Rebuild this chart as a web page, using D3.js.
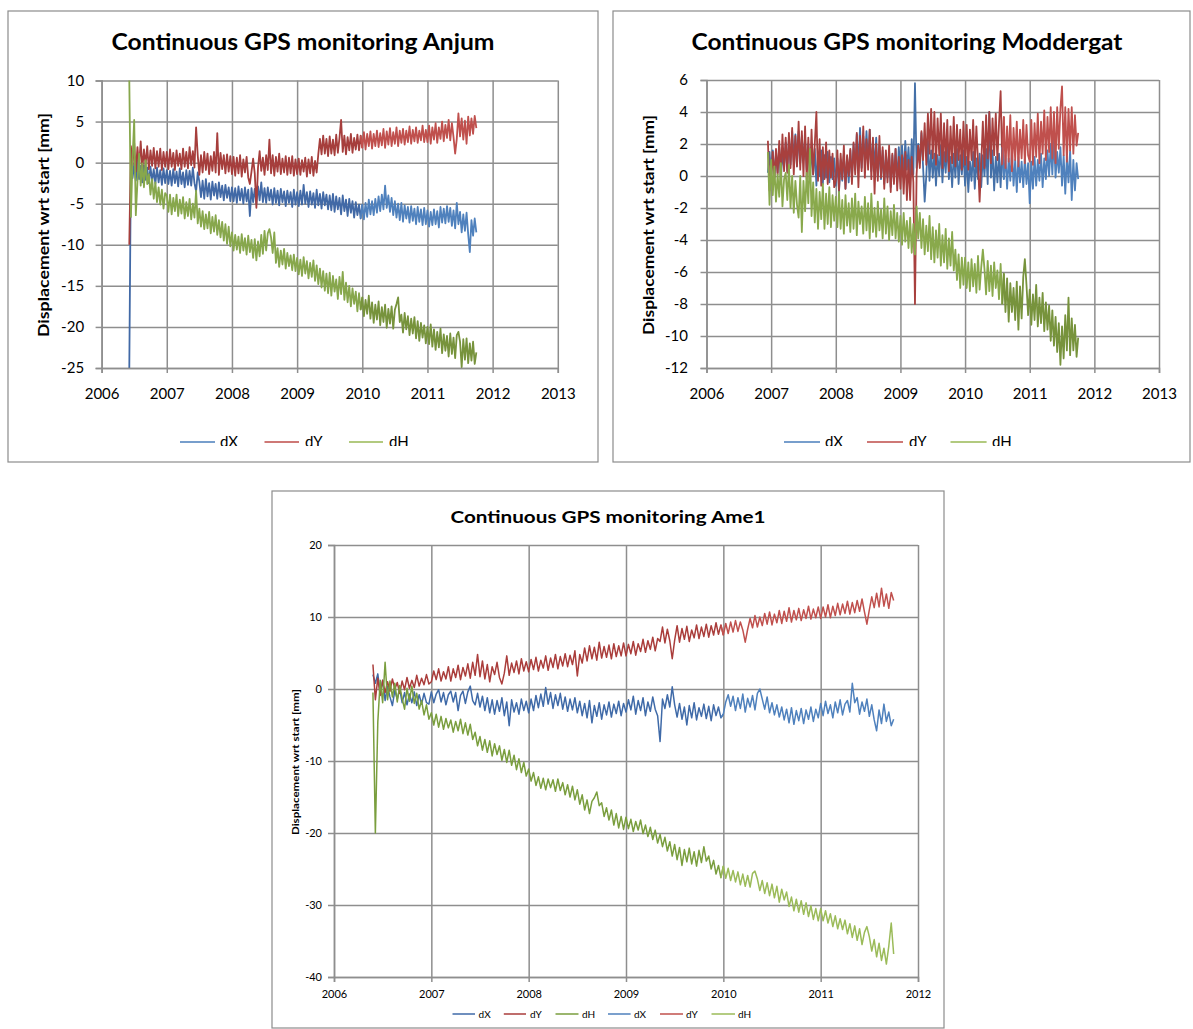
<!DOCTYPE html>
<html>
<head>
<meta charset="utf-8">
<script src="https://cdn.jsdelivr.net/npm/d3@7"></script>
<style>
body { margin: 0; background: #fff; }
svg { display: block; font-family: Lato, "Liberation Sans", sans-serif; }
</style>
</head>
<body>
<svg id="chart" width="1193" height="1029"></svg>
<script>
// values, one sample every STEP years from each start date
var STEP = 0.025;
var seriesNames = ["dX", "dY", "dH"];

// ---- Anjum ----
var anjumStart = 2006.425;
var anjumDX = [
-25,0.1,-1.9,-0.2,-2.2,0.3,-2.0,-0.4,-2.4,-0.3,-2.1,-0.6,-2.5,-0.5,-2.3,-0.8,-2.6,-0.6,-2.4,-0.9,-2.7,-0.7,-2.5,
-0.9,-2.6,-1.0,-2.8,-0.8,-2.5,-1.1,-2.9,-0.7,-2.6,-1.2,-3.0,-0.9,-2.7,-1.0,-2.8,-0.6,-2.5,-3.5,-1.2,
-2.3,-4.2,-2.2,-4.4,-2.0,-4.1,-2.5,-4.5,-2.3,-4.0,-2.6,-4.4,-2.4,-4.2,-2.8,-4.6,-2.7,-4.3,-3.0,-4.7,
-3.0,-4.7,-3.1,-4.9,-2.9,-4.6,-3.2,-5.0,-3.0,-4.7,-3.3,-6.5,-3.1,-4.8,-3.2,-5.0,-2.9,-4.6,-2.4,-4.8,
-3.1,-4.9,-3.0,-4.6,-3.3,-5.1,-3.1,-4.9,-3.4,-5.2,-3.2,-4.8,-3.5,-5.3,-3.4,-4.9,-3.6,-5.4,-3.3,-5.1,
-3.6,-5.3,-3.4,-5.1,-2.7,-5.0,-3.6,-5.4,-3.5,-5.1,-3.7,-5.5,-3.3,-5.2,-3.8,-5.6,-3.6,-5.2,-3.9,-5.7,
-4.0,-5.8,-3.8,-6.0,-4.1,-5.7,-4.3,-6.3,-4.0,-5.9,-4.5,-6.5,-4.4,-6.1,-4.7,-6.7,-4.8,-6.4,-5.1,-6.8,
-5.1,-6.9,-4.9,-6.6,-4.5,-6.3,-4.7,-6.4,-4.4,-6.1,-4.1,-5.9,-3.9,-5.7,-2.8,-5.5,-4.0,-6.0,-4.3,-6.4,
-4.7,-6.7,-5.0,-7.0,-4.9,-7.2,-5.2,-6.8,-5.4,-7.3,-5.3,-7.1,-5.6,-7.5,-5.4,-7.2,-5.7,-7.6,-5.5,-7.5,
-5.8,-7.8,-6.0,-7.6,-5.7,-7.5,-5.9,-7.9,-5.4,-7.3,-5.6,-7.4,-5.3,-7.2,-5.5,-7.7,-5.8,-8.0,-4.9,-7.5,
-6.0,-8.5,-6.3,-8.3,-6.1,-8.7,-10.9,-7.0,-8.9,-6.8,-8.5
];
var anjumDY = [
-10,2.0,-0.3,2.4,-1.1,1.9,-0.5,2.6,-0.8,1.6,-0.3,2.0,-0.8,1.5,-0.4,1.8,-0.7,1.4,-0.5,1.7,-0.9,1.3,-0.5,
1.3,-0.8,1.6,-0.5,1.2,-0.9,1.5,-0.4,1.1,-0.8,1.7,-0.5,1.3,-0.7,1.9,-0.3,1.4,-0.6,4.3,0.9,
-1.5,0.9,-1.2,1.3,-0.9,1.1,-1.4,0.8,-1.0,1.3,-1.2,3.6,-1.5,1.2,-0.8,0.9,-1.3,1.0,-1.1,0.8,
-1.4,0.7,-1.6,0.6,-1.3,0.9,-1.7,0.4,-1.2,0.7,-1.8,-2.6,-1.1,0.5,-1.3,-5.5,-0.6,1.4,-1.0,0.6,
-1.5,0.9,-0.9,2.8,-1.3,0.9,-1.6,0.7,-1.1,1.1,-1.4,0.5,-1.2,0.8,-1.5,0.6,-1.3,0.8,-1.6,0.4,
-1.4,0.5,-1.5,0.3,-1.1,0.6,-1.7,0.4,-1.3,0.7,-1.6,0.2,-1.2,1.0,2.9,1.0,3.3,1.1,2.9,0.8,
3.2,1.1,2.8,0.9,3.4,1.2,3.0,5.2,1.3,3.3,1.0,3.1,1.5,3.5,1.2,3.0,1.6,3.4,1.5,3.3,
1.8,3.7,1.6,3.5,2.0,3.8,1.7,3.5,2.0,3.9,1.9,3.6,2.1,4.1,1.8,3.8,2.2,4.2,2.0,3.7,
2.3,4.3,2.0,3.9,2.4,4.1,2.2,3.9,2.5,4.4,2.3,4.0,2.6,4.3,2.4,3.9,2.7,4.5,2.5,4.0,
2.5,4.5,2.3,4.3,2.8,4.8,2.4,4.3,2.9,5.0,2.6,4.6,3.0,5.2,2.7,4.8,3.1,1.1,2.9,6.0,
3.2,5.4,2.8,5.1,2.3,5.6,3.3,5.4,3.5,5.7,4.2
];
var anjumDH = [
10,-6.6,0.5,5.2,-6.4,-2.4,1.1,-2.8,-0.1,-3.0,0.3,-2.6,-1.4,-3.9,-2.0,-4.4,-2.4,-4.8,-3.0,-5.1,-3.3,-5.6,-3.7,
-4.0,-6.0,-3.9,-6.3,-4.3,-5.9,-3.9,-6.5,-4.5,-6.2,-4.2,-6.8,-4.8,-6.5,-4.4,-6.9,-5.0,-6.7,-3.4,-7.4,
-5.6,-7.8,-5.9,-8.1,-6.3,-8.0,-6.0,-8.6,-6.6,-8.4,-6.4,-8.8,-7.0,-9.1,-7.2,-9.5,-7.5,-9.9,-7.8,-10.2,
-8.5,-10.7,-8.8,-10.6,-9.0,-11.0,-8.7,-10.7,-9.2,-11.2,-8.9,-10.9,-9.4,-11.6,-9.3,-11.9,-9.6,-11.4,-8.8,-11.1,
-8.3,-10.7,-8.6,-8.1,-9.1,-11.0,-8.5,-12.2,-10.4,-12.7,-10.7,-12.4,-10.5,-12.9,-11.0,-12.6,-11.3,-13.1,-11.2,-13.2,
-11.6,-13.6,-11.8,-13.8,-11.5,-13.5,-12.0,-14.1,-12.2,-13.9,-11.9,-14.4,-12.5,-14.8,-12.9,-15.2,-13.2,-15.6,-13.5,-15.9,
-13.4,-16.2,-13.8,-15.7,-14.2,-16.6,-13.9,-16.0,-13.3,-16.7,-14.6,-17.0,-15.0,-17.5,-15.3,-17.2,-15.7,-18.1,-15.9,-17.9,
-16.4,-18.7,-16.7,-18.4,-16.2,-19.0,-17.0,-19.5,-17.3,-19.1,-16.9,-19.8,-17.6,-19.4,-17.3,-20.1,-17.8,-19.6,-17.5,-20.2,
-17.9,-17.2,-16.4,-19.4,-18.5,-20.7,-18.3,-20.3,-18.7,-21.0,-19.0,-20.8,-18.8,-21.4,-19.3,-21.7,-19.5,-21.3,-19.8,-22.0,
-20.0,-22.1,-19.7,-22.4,-20.3,-22.8,-20.6,-22.5,-20.2,-23.2,-20.9,-22.9,-21.1,-23.6,-20.8,-23.3,-21.3,-23.8,-21.0,-20.6,
-21.8,-24.9,-21.5,-24.0,-21.4,-24.4,-22.0,-24.1,-21.8,-24.5,-23.1
];
var anjumXTicks = [2006, 2007, 2008, 2009, 2010, 2011, 2012, 2013];
var anjumYTicks = [10, 5, 0, -5, -10, -15, -20, -25];

// ---- Moddergat ----
var moddStart = 2006.95;
var moddDX = [
0.2,1.5,
0.0,1.6,-0.1,1.4,0.2,1.8,-0.2,1.5,0.5,2.1,0.3,2.3,0.7,2.8,0.9,2.6,0.6,2.8,0.8,2.5,
1.0,2.3,0.4,2.0,-0.1,1.8,0.1,1.7,-0.6,1.4,0.0,1.6,-0.5,1.3,-0.1,1.5,-0.4,1.2,-0.2,1.1,
-0.6,1.1,-1.0,1.0,-0.3,1.4,-0.8,1.2,-0.4,1.6,-0.1,2.0,0.4,2.6,0.6,3.0,0.5,2.5,0.9,2.8,
0.7,2.9,0.3,2.2,0.5,2.4,0.0,1.9,-0.2,1.6,-0.5,1.4,-0.1,1.5,-0.7,1.3,-0.2,1.7,-0.4,1.8,
0.2,1.9,-0.1,2.2,0.4,1.8,-0.2,2.3,0.1,5.8,0.5,2.0,0.8,2.7,0.6,-1.6,0.0,2.2,-0.3,1.6,
-0.1,1.4,-0.6,1.3,0.0,1.9,-0.4,1.5,0.2,2.1,-0.2,1.2,-0.7,1.4,-0.1,1.7,-0.5,1.3,0.1,1.6,
-0.6,1.2,-1.0,0.9,-0.3,1.5,-0.8,1.1,-0.2,1.4,-0.7,1.3,0.0,1.7,-0.5,4.0,-0.1,1.6,-0.9,1.2,
-0.4,1.4,-0.7,1.8,-0.2,1.3,-0.8,1.1,-0.3,1.6,-0.6,1.0,-1.0,1.2,-0.4,0.9,-0.7,1.1,-0.5,0.8,
-1.7,0.9,-0.8,1.2,-0.6,1.0,-0.3,1.4,-0.7,1.1,-0.2,1.6,0.0,2.0,0.1,2.3,-0.1,1.5,0.2,1.8,
-0.6,1.3,-1.1,1.2,-0.4,1.6,-1.5,1.0,-0.9,0.8,-0.2
];
var moddDY = [
2.2,-0.9,
-0.1,1.5,-0.2,1.7,0.1,2.2,0.0,2.6,0.3,2.4,0.2,2.7,0.5,3.0,0.1,2.5,0.6,3.4,0.4,2.8,
0.0,3.1,-0.2,2.4,-0.4,2.9,0.1,2.0,4.0,-0.3,2.3,-0.6,1.8,-0.2,2.1,-0.5,1.6,-0.1,1.4,-0.7,
-0.3,1.6,-0.9,1.4,-0.2,1.9,-0.8,1.3,0.0,1.7,-0.5,2.1,0.1,2.7,-0.7,2.5,0.3,3.1,-0.1,2.3,
0.4,2.9,-0.2,2.4,-1.1,2.0,-0.3,2.5,-0.1,1.8,-0.8,1.6,-0.4,1.9,-1.0,1.4,-0.5,1.7,-0.9,1.2,
-0.8,1.3,-1.1,1.5,-1.5,1.0,-1.5,1.2,-0.4,-8.0,0.1,1.9,0.5,2.8,1.0,3.3,0.7,3.9,1.4,4.2,
1.1,4.0,0.7,3.6,1.3,3.9,0.5,3.3,0.9,3.5,0.3,3.1,0.8,3.7,0.6,3.2,1.0,2.9,0.4,3.4,
0.7,3.2,0.4,2.9,1.0,3.5,0.6,3.1,0.9,-1.6,0.8,3.4,0.5,3.8,1.1,4.0,0.8,3.6,1.3,3.9,
1.0,3.3,5.3,0.7,3.7,0.5,3.1,0.9,3.8,0.3,3.0,1.0,3.4,0.6,2.9,1.1,3.5,0.8,3.2,1.3,
0.9,3.5,0.7,3.3,1.2,3.9,0.8,3.4,1.4,4.1,1.0,3.7,1.5,4.3,1.1,4.0,0.8,4.3,1.7,4.2,
5.6,1.3,4.3,0.9,4.2,1.6,4.3,1.4,3.8,1.9,2.7
];
var moddDH = [
1.5,-1.8,
1.0,-1.2,0.6,-1.6,0.1,-1.3,0.8,-1.9,-0.2,0.2,-1.5,0.7,-2.0,0.0,-2.3,-0.3,-1.8,-2.6,0.0,-3.5,
-0.3,-2.2,0.2,-1.7,1.7,-2.5,-0.4,-2.9,-0.8,-3.3,-1.0,-2.7,-0.5,-3.3,-1.1,-3.0,-0.7,-3.2,-1.2,-2.8,
-1.3,-3.2,-1.0,-3.3,-1.5,-3.6,-1.2,-3.1,-1.7,-3.5,-1.4,-3.3,-1.1,-3.7,-1.6,-3.0,-1.9,-3.6,-1.3,-3.4,
-1.7,-3.9,-1.1,-3.5,-2.0,-3.8,-1.6,-3.4,-2.1,-3.9,-1.4,-3.6,-1.9,-4.0,-2.2,-3.7,-1.8,-3.9,-2.3,-4.1,
-2.5,-4.3,-2.3,-4.1,-2.8,-4.5,-2.6,-4.8,-3.0,-4.9,-1.9,-3.9,-2.3,-4.5,-2.7,-4.9,-3.1,-4.7,-2.5,-5.2,
-3.2,-5.4,-3.4,-5.1,-3.0,-5.6,-3.7,-5.4,-3.3,-5.8,-3.9,-5.6,-3.5,-5.9,-4.6,-6.5,-4.9,-7.0,-5.1,-6.8,
-5.1,-7.0,-5.4,-7.2,-5.2,-6.9,-5.5,-7.3,-5.0,-7.1,-5.7,-4.6,-5.8,-7.4,-5.3,-7.2,-5.6,-7.5,-5.4,-7.0,
-5.9,-7.7,-5.5,-8.0,-6.1,-8.5,-6.4,-9.1,-6.7,-8.5,-7.0,-9.0,-6.6,-9.6,-6.9,-8.9,-6.3,-5.2,-6.8,-8.7,
-7.1,-9.3,-7.4,-9.0,-6.8,-9.4,-7.6,-9.2,-7.3,-9.7,-7.9,-9.6,-8.1,-10.3,-8.4,-10.6,-8.8,-11.0,-9.2,-11.8,
-9.4,-11.4,-8.7,-10.9,-7.6,-11.2,-8.9,-10.9,-9.3,-11.3,-10.1
];
var moddXTicks = [2006, 2007, 2008, 2009, 2010, 2011, 2012, 2013];
var moddYTicks = [6, 4, 2, 0, -2, -4, -6, -8, -10, -12];

// ---- Ame1 ----
var ame1Start = 2006.4;
var ame1DX = [
2.0,0.8,2.1,-0.6,1.2,-1.6,0.4,-1.1,-2.3,-0.2,-1.4,0.0,-1.9,-0.5,-2.2,-0.7,-1.9,-0.4,-2.3,-0.8,-2.1,-0.6,-1.9,-2.1,
-0.4,-1.9,-0.7,-0.1,-1.8,-0.5,-2.2,-0.8,-0.3,-1.8,-0.5,-3.0,-0.9,-0.3,-2.0,-0.4,0.4,-1.6,-2.2,-0.6,
-2.5,-1.0,-3.0,-1.2,-3.3,-1.5,-3.5,-1.6,-3.1,-1.2,-3.7,-1.8,-5.1,-1.5,-3.2,-1.9,-3.5,-1.4,-3.0,-1.7,
-3.3,-1.4,-3.0,-0.9,-2.6,-0.7,-2.4,0.2,-2.1,-0.5,-2.7,-0.8,-2.3,-0.6,-2.8,-1.1,-3.1,-1.4,-2.9,-1.2,
-3.3,-1.7,-3.7,-2.0,-4.0,-1.6,-4.7,-2.3,-3.8,-1.9,-4.2,-2.2,-3.6,-1.8,-3.9,-2.1,-3.4,-1.7,-3.7,-2.0,
-3.2,-1.5,-2.9,-1.0,-3.5,-1.6,-3.0,-1.2,-3.7,-1.8,-3.1,-1.1,-2.8,-3.7,-7.3,-1.4,-2.7,-0.8,-2.5,0.3,
-2.2,-3.9,-2.0,-4.2,-2.5,-5.0,-2.3,-4.0,-1.9,-4.3,-2.6,-3.8,-2.1,-4.1,-2.4,-4.4,-2.2,-3.7,-2.5,-4.0,
-3.5,-1.8,-0.8,-2.4,-1.0,-3.0,-1.2,-2.7,-0.7,-3.2,-1.3,-2.5,-0.9,-2.9,-0.6,0.0,-1.4,-2.8,-1.1,-3.3,
-1.9,-3.6,-2.2,-3.9,-2.5,-4.3,-2.8,-4.7,-2.6,-4.9,-3.0,-4.4,-2.7,-4.8,-2.9,-4.2,-2.5,-4.5,-2.8,-4.0,
-2.0,-3.7,-1.7,-3.4,-2.2,-4.0,-1.8,-3.3,-1.5,-3.6,-2.1,-1.6,-3.2,0.8,-1.9,-1.2,-3.5,-1.8,-3.1,-1.4,
-3.8,-2.2,-4.3,-5.8,-2.9,-4.8,-2.1,-4.5,-3.2,-5.1,-4.2
];
var ame1DY = [
3.4,-1.5,1.5,-0.9,1.2,-0.5,1.0,-0.3,1.4,0.0,0.9,-0.6,1.1,-0.1,1.6,0.1,1.2,0.2,1.9,0.4,1.5,0.6,2.0,0.7,
1.0,2.5,1.3,2.8,1.1,2.4,1.4,3.1,1.1,2.8,1.6,3.3,1.3,3.0,1.8,3.5,1.5,3.7,1.9,4.8,
1.7,3.9,1.4,3.4,1.0,3.1,2.0,3.7,1.6,0.7,2.2,4.6,1.9,3.6,2.3,3.9,2.1,4.2,2.5,3.8,
2.4,4.1,2.7,4.4,2.5,4.0,2.9,4.6,2.6,4.3,3.0,4.8,2.8,4.5,3.2,4.9,3.1,4.7,3.4,5.3,
1.8,4.8,3.6,5.7,3.9,6.0,4.2,5.8,4.0,6.5,4.3,5.9,4.4,6.1,4.2,6.3,4.5,6.0,4.6,6.4,
4.6,6.2,4.9,6.6,4.7,6.3,5.2,6.9,5.1,6.7,5.5,7.2,5.3,7.0,6.6,8.6,6.4,8.3,6.7,4.2,
6.8,8.8,6.5,8.4,6.9,8.7,6.6,8.2,7.1,8.9,7.0,8.6,7.3,9.0,7.2,8.8,7.5,9.2,7.6,8.9,
7.5,9.1,7.7,9.3,7.9,9.5,8.0,9.3,8.2,6.5,8.3,9.8,8.5,10.2,8.6,10.0,8.8,10.5,9.0,10.7,
8.9,10.4,9.2,10.9,9.1,10.8,9.4,11.3,9.3,10.9,9.6,11.2,9.5,11.0,9.8,11.5,9.7,11.1,9.9,11.4,
9.8,11.4,10.0,11.7,9.9,11.5,10.2,11.9,10.3,11.8,10.5,12.2,10.4,12.0,10.6,12.3,10.8,12.5,10.7,9.0,
11.0,12.8,11.3,13.3,11.4,14.0,11.5,13.2,11.2,13.4,12.3
];
var ame1DH = [
-0.5,-20.0,-4.6,1.2,-1.9,3.7,-1.5,1.1,-1.1,0.8,-1.8,0.5,-1.3,-2.8,0.1,-1.7,0.4,-2.0,-0.6,-2.8,-1.6,-3.6,-2.2,-4.2,
-3.3,-5.0,-3.5,-5.3,-3.8,-5.6,-4.1,-5.4,-4.3,-6.0,-4.5,-5.8,-4.2,-6.2,-4.7,-6.4,-4.9,-7.0,-6.0,-7.9,
-6.6,-8.5,-7.0,-8.8,-7.2,-9.3,-7.6,-9.1,-7.9,-9.9,-8.4,-10.2,-8.5,-10.6,-9.2,-11.2,-9.7,-11.6,-10.2,-12.1,
-11.1,-12.8,-11.6,-13.4,-12.2,-13.8,-12.4,-14.0,-12.5,-13.7,-12.6,-14.2,-12.5,-14.1,-13.0,-14.7,-13.3,-15.0,-13.5,-15.4,
-14.0,-16.0,-14.7,-16.8,-15.4,-17.3,-15.6,-15.1,-14.3,-16.2,-15.8,-17.7,-16.5,-18.2,-16.8,-18.9,-17.3,-19.3,-17.7,-19.5,
-17.8,-19.4,-18.1,-19.8,-18.4,-19.6,-18.2,-20.1,-18.9,-20.5,-19.2,-20.9,-19.6,-21.4,-20.2,-21.9,-20.6,-22.5,-21.2,-23.2,
-21.6,-23.7,-22.0,-24.5,-22.3,-24.0,-22.1,-24.3,-22.6,-24.6,-22.4,-24.1,-21.9,-23.9,-23.2,-25.0,-23.8,-25.7,-24.5,-26.2,
-24.6,-26.3,-24.9,-26.6,-25.2,-26.8,-25.4,-27.2,-25.7,-27.4,-25.9,-27.5,-25.6,-25.3,-26.4,-28.0,-26.6,-28.4,-26.9,-28.7,
-27.1,-29.0,-27.4,-29.6,-27.8,-29.3,-28.2,-30.2,-28.9,-30.8,-29.2,-31.0,-29.4,-31.3,-29.7,-31.6,-30.1,-32.0,-30.5,-32.2,
-30.5,-32.2,-30.8,-32.5,-31.2,-33.0,-31.5,-33.3,-31.9,-33.4,-32.1,-34.0,-32.6,-34.5,-32.9,-34.9,-33.3,-35.5,-33.8,-33.0,
-34.4,-36.4,-34.8,-37.2,-35.3,-37.7,-36.0,-38.2,-35.7,-32.5,-36.8
];
var ame1XTicks = [2006, 2007, 2008, 2009, 2010, 2011, 2012];
var ame1YTicks = [20, 10, 0, -10, -20, -30, -40];

var gridColor = "#8e8e8e";
var svg = d3.select("#chart");

var panels = [
  {
    title: "Continuous GPS monitoring Anjum", titleX: 303, titleY: 50, titleSize: 22, titleLen: 383,
    frame: [8, 11, 590, 451], plot: [101.6, 557.8, 80.5, 368],
    xDomain: [2006, 2013], yDomain: [-25, 10], xTicks: anjumXTicks, yTicks: anjumYTicks,
    tickFont: 15, yPad: 11.5, xPad: 15,
    yTitleX: 44, yTitleY: 225, yTitleSize: 15, yTitleLen: 224,
    start: anjumStart, data: [anjumDX, anjumDY, anjumDH], split: 2010.0,
    colors1: ["#4169a6", "#a63e3c", "#87a74c"], colors2: ["#4f81bd", "#c0504d", "#77933c"],
    lineW: 1.8,
    legend: seriesNames, legendColors: ["#4a7ebb", "#be4b48", "#98b954"],
    legendY: 442, legendLines: [[180, 215], [264.5, 299], [349, 383]], legendText: [220, 305, 389],
    legendFont: 15, legendClip: 446
  },
  {
    title: "Continuous GPS monitoring Moddergat", titleX: 907, titleY: 50, titleSize: 22, titleLen: 431,
    frame: [613, 11, 577, 451], plot: [706.5, 1159, 80, 368],
    xDomain: [2006, 2013], yDomain: [-12, 6], xTicks: moddXTicks, yTicks: moddYTicks,
    tickFont: 15, yPad: 12.5, xPad: 15,
    yTitleX: 649, yTitleY: 225, yTitleSize: 15, yTitleLen: 220,
    start: moddStart, data: [moddDX, moddDY, moddDH], split: 2010.6,
    colors1: ["#4470a8", "#a8403e", "#89a94c"], colors2: ["#4f81bd", "#c0504d", "#77933c"],
    lineW: 1.8,
    legend: seriesNames, legendColors: ["#4a7ebb", "#be4b48", "#98b954"],
    legendY: 442, legendLines: [[784, 820], [867, 903], [950.5, 986.6]], legendText: [825, 909, 992],
    legendFont: 15, legendClip: 446
  },
  {
    title: "Continuous GPS monitoring Ame1", titleX: 608, titleY: 523, titleSize: 17, titleLen: 315,
    frame: [272, 491, 672, 537], plot: [334, 918, 545, 977],
    xDomain: [2006, 2012], yDomain: [-40, 20], xTicks: ame1XTicks, yTicks: ame1YTicks,
    tickFont: 11, yPad: 6, xPad: 8,
    yTitleX: 296, yTitleY: 762, yTitleSize: 9, yTitleLen: 146,
    start: ame1Start, data: [ame1DX, ame1DY, ame1DH], split: 2010.0,
    colors1: ["#3f6aa8", "#aa3d3b", "#7a9e3e"], colors2: ["#4f81bd", "#c0504d", "#9bbb59"],
    lineW: 1.5,
    legend: seriesNames.concat(seriesNames),
    legendColors: ["#3f6aa8", "#aa3d3b", "#7a9e3e", "#4f81bd", "#c0504d", "#9bbb59"],
    legendY: 1014,
    legendLines: [[452.5, 475], [503.8, 526], [555.5, 578.5], [608, 630.6], [660, 683], [711.5, 735]],
    legendText: [478.6, 530, 582, 634, 686, 738],
    legendFont: 10, legendClip: null
  }
];

panels.forEach(function(p, pi) {
  var g = svg.append("g");
  var x = d3.scaleLinear().domain(p.xDomain).range([p.plot[0], p.plot[1]]);
  var y = d3.scaleLinear().domain(p.yDomain).range([p.plot[3], p.plot[2]]);
  var w = p.plot[1] - p.plot[0], h = p.plot[3] - p.plot[2];

  g.append("rect")
    .attr("x", p.frame[0]).attr("y", p.frame[1])
    .attr("width", p.frame[2]).attr("height", p.frame[3])
    .attr("fill", "#fff").attr("stroke", "#8c8c8c").attr("stroke-width", 1.2);

  g.append("text")
    .attr("x", p.titleX).attr("y", p.titleY)
    .attr("text-anchor", "middle")
    .attr("font-weight", "bold").attr("font-size", p.titleSize)
    .attr("textLength", p.titleLen).attr("lengthAdjust", "spacingAndGlyphs")
    .text(p.title);

  // grid lines
  var gx = g.append("g").attr("transform", "translate(0," + p.plot[3] + ")")
    .call(d3.axisBottom(x).tickValues(p.xTicks).tickSize(-h).tickFormat(""));
  gx.select(".domain").remove();
  var gy = g.append("g").attr("transform", "translate(" + p.plot[0] + ",0)")
    .call(d3.axisLeft(y).tickValues(p.yTicks).tickSize(-w).tickFormat(""));
  gy.select(".domain").remove();
  g.selectAll("line").attr("stroke", gridColor).attr("stroke-width", 1.5);

  // series, two recordings per component as in the source sheet
  var line = d3.line()
    .x(function(d) { return x(d[0]); })
    .y(function(d) { return y(d[1]); });
  var pts = p.data.map(function(arr) {
    return arr.map(function(v, i) { return [p.start + i * STEP, v]; });
  });
  [0, 1].forEach(function(part) {
    pts.forEach(function(s, si) {
      var seg = s.filter(function(d) {
        return part === 0 ? d[0] <= p.split + 1e-6 : d[0] >= p.split - STEP - 1e-6;
      });
      g.append("path")
        .datum(seg)
        .attr("fill", "none")
        .attr("stroke", part === 0 ? p.colors1[si] : p.colors2[si])
        .attr("stroke-width", p.lineW)
        .attr("stroke-linejoin", "round")
        .attr("d", line);
    });
  });

  // axes
  var ay = g.append("g").attr("transform", "translate(" + p.plot[0] + ",0)")
    .call(d3.axisLeft(y).tickValues(p.yTicks).tickSize(6).tickPadding(p.yPad)
      .tickFormat(function(d) { return String(d); }));
  var ax = g.append("g").attr("transform", "translate(0," + p.plot[3] + ")")
    .call(d3.axisBottom(x).tickValues(p.xTicks).tickSize(5).tickPadding(p.xPad)
      .tickFormat(function(d) { return String(d); }));
  [ax, ay].forEach(function(a) {
    a.select(".domain").attr("stroke", gridColor).attr("stroke-width", 1.5);
    a.selectAll("line").attr("stroke", gridColor).attr("stroke-width", 1.5);
    a.selectAll("text").attr("font-size", p.tickFont).attr("fill", "#000")
      .attr("font-family", "Lato, 'Liberation Sans', sans-serif");
  });

  g.append("text")
    .attr("transform", "translate(" + p.yTitleX + "," + p.yTitleY + ") rotate(-90)")
    .attr("text-anchor", "middle").attr("dy", "0.35em")
    .attr("font-weight", "bold").attr("font-size", p.yTitleSize)
    .attr("textLength", p.yTitleLen).attr("lengthAdjust", "spacingAndGlyphs")
    .text("Displacement wrt start [mm]");

  // legend
  var lg = g.append("g");
  if (p.legendClip) {
    var cid = "legclip" + pi;
    svg.append("clipPath").attr("id", cid).append("rect")
      .attr("x", p.frame[0]).attr("y", p.legendY - 20)
      .attr("width", p.frame[2]).attr("height", p.legendClip - (p.legendY - 20));
    lg.attr("clip-path", "url(#" + cid + ")");
  }
  p.legend.forEach(function(name, i) {
    lg.append("line")
      .attr("x1", p.legendLines[i][0]).attr("x2", p.legendLines[i][1])
      .attr("y1", p.legendY).attr("y2", p.legendY)
      .attr("stroke", p.legendColors[i]).attr("stroke-width", 1.5);
    lg.append("text")
      .attr("x", p.legendText[i]).attr("y", p.legendY).attr("dy", "0.36em")
      .attr("font-size", p.legendFont)
      .text(name);
  });
});
</script>
</body>
</html>
